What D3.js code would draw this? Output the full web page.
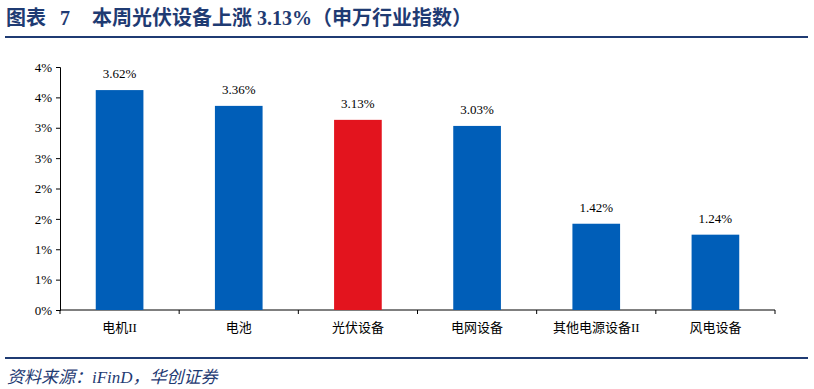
<!DOCTYPE html>
<html>
<head>
<meta charset="utf-8">
<script src="https://cdn.jsdelivr.net/npm/d3@7"></script>
<style>
  body { margin: 0; background: #fff; }
  svg text { font-family: "Liberation Serif", "Noto Sans CJK SC", serif; }
</style>
</head>
<body>
<svg width="814" height="389"></svg>
<script>
var categories = ["电机II", "电池", "光伏设备", "电网设备", "其他电源设备II", "风电设备"];
var values = [3.62, 3.36, 3.13, 3.03, 1.42, 1.24];
var highlight = "光伏设备";
var yTicks = [0, 0.5, 1, 1.5, 2, 2.5, 3, 3.5, 4];

var svg = d3.select("svg"),
    width = +svg.attr("width"),
    height = +svg.attr("height");

var navy = "#1f3b73";

// title, in three pieces for the gaps
var title = svg.append("text")
    .attr("y", 25)
    .attr("fill", navy)
    .style("font-size", "20px").style("font-weight", "bold");
title.append("tspan").attr("x", 6).text("图表");
title.append("tspan").attr("x", 60).text("7");
title.append("tspan").attr("x", 92).text("本周光伏设备上涨 3.13%（申万行业指数）");

svg.append("rect").attr("x", 5).attr("y", 36).attr("width", 803).attr("height", 2).attr("fill", navy);
svg.append("rect").attr("x", 5).attr("y", 357).attr("width", 803).attr("height", 2).attr("fill", navy);

svg.append("text")
    .attr("x", 7).attr("y", 383)
    .attr("fill", navy)
    .style("font-size", "17px").style("font-style", "italic")
    .text("资料来源：iFinD，华创证券");

var x = d3.scaleBand()
    .domain(categories)
    .range([60, 775])
    .paddingInner(0.6).paddingOuter(0.3);

var y = d3.scaleLinear()
    .domain([0, 4])
    .range([310, 67]);

var g = svg.append("g");

// y axis
var yAxis = g.append("g")
    .attr("transform", "translate(60,0)")
    .call(d3.axisLeft(y).tickValues(yTicks).tickSize(4).tickFormat(function(d) { return Math.round(d + 1e-9) + "%"; }));
yAxis.select(".domain").attr("stroke", "#000");
yAxis.selectAll("text").style("font-size", "13px").attr("fill", "#000").attr("dx", "-1");

// x axis
var xAxis = g.append("g")
    .attr("transform", "translate(0,310)");
xAxis.append("line").attr("x1", 60).attr("x2", 775).attr("stroke", "#000");
var bounds = d3.range(categories.length + 1).map(function(i) { return 60 + i * (715 / categories.length); });
xAxis.selectAll(".tk").data(bounds).enter().append("line")
    .attr("x1", function(d) { return d; }).attr("x2", function(d) { return d; })
    .attr("y1", 0).attr("y2", 4).attr("stroke", "#000");
xAxis.selectAll(".lbl").data(categories).enter().append("text")
    .attr("x", function(d) { return x(d) + x.bandwidth() / 2; })
    .attr("y", 22)
    .attr("text-anchor", "middle")
    .style("font-size", "13px")
    .text(function(d) { return d; });

// bars
g.selectAll(".bar").data(categories).enter().append("rect")
    .attr("x", function(d) { return x(d); })
    .attr("width", x.bandwidth())
    .attr("y", function(d, i) { return y(values[i]); })
    .attr("height", function(d, i) { return y(0) - y(values[i]); })
    .attr("fill", function(d) { return d == highlight ? "#e3141e" : "#005eb8"; });

g.selectAll(".val").data(categories).enter().append("text")
    .attr("x", function(d) { return x(d) + x.bandwidth() / 2; })
    .attr("y", function(d, i) { return y(values[i]) - 12; })
    .attr("text-anchor", "middle")
    .style("font-size", "13px")
    .text(function(d, i) { return values[i].toFixed(2) + "%"; });
</script>
</body>
</html>
